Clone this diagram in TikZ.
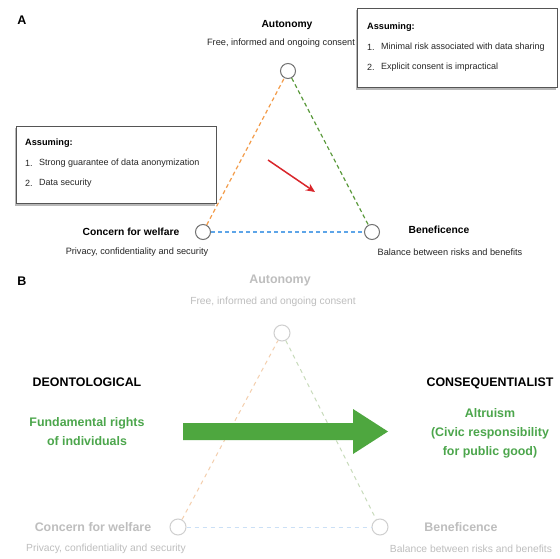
\documentclass[tikz,border=0pt]{standalone}
\usepackage{fontspec}
\setmainfont{Liberation Sans}
\usetikzlibrary{arrows.meta}
\pgfdeclarelayer{background}
\pgfsetlayers{background,main}
\definecolor{orangeD}{HTML}{F39C4A}
\definecolor{greenD}{HTML}{5B9A3C}
\definecolor{blueD}{HTML}{5DA5E8}
\definecolor{redA}{HTML}{D9262B}
\definecolor{bigG}{HTML}{4EA73F}
\definecolor{txtG}{HTML}{4CA64C}
\definecolor{fade}{HTML}{BEBEBE}
\definecolor{fadeC}{HTML}{CFCFCF}
\definecolor{fadeO}{HTML}{F4CFAE}
\definecolor{fadeG}{HTML}{C8DBBB}
\definecolor{fadeB}{HTML}{CBE0F6}
\definecolor{boxline}{HTML}{555555}
\definecolor{shade}{HTML}{B8B8B8}
\begin{document}
\begin{tikzpicture}[x=1pt,y=-1pt,
  txt/.style={inner sep=0pt},
  ttl/.style={txt,font=\bfseries\fontsize{10.3}{12}\selectfont},
  sub/.style={txt,text=black!85,font=\fontsize{9.2}{11}\selectfont},
  boxt/.style={txt,anchor=west,text=black!85,font=\fontsize{9}{11}\selectfont},
  boxh/.style={txt,anchor=west,font=\bfseries\fontsize{9.2}{11}\selectfont},
  circ/.style={circle,draw=gray!90!black,fill=white,line width=1pt,minimum size=15pt,inner sep=0pt},
  fcirc/.style={circle,draw=fadeC,fill=white,line width=1pt,minimum size=16pt,inner sep=0pt},
  abox/.style={draw=boxline,fill=white,line width=0.9pt},
  shadowbox/.style={fill=shade},
  dl/.style={line width=1.2pt,dash pattern=on 4pt off 3pt},
  fdl/.style={line width=1pt,dash pattern=on 4pt off 4pt},
  bigt/.style={txt,font=\bfseries\fontsize{12.4}{19}\selectfont,align=center},
  fttl/.style={txt,text=fade,font=\bfseries\fontsize{12.4}{14}\selectfont},
  fsub/.style={txt,text=fade,font=\fontsize{10.3}{12}\selectfont},
  panel/.style={txt,font=\bfseries\fontsize{12.5}{14}\selectfont}]
\useasboundingbox (0,0) rectangle (560,559);
\begin{pgfonlayer}{background}
  \fill[white] (0,0) rectangle (560,559);
\end{pgfonlayer}

% ---------- Panel A ----------
\node[panel] (labA) at (22,20) {A};
\node[ttl] (autT) at (287,25) {Autonomy};
\node[sub] (autS) at (281,43) {Free, informed and ongoing consent};
\node[circ] (aut) at (288,71) {};
\node[circ] (wel) at (203,232) {};
\node[circ] (ben) at (372,232) {};
\draw[dl,orangeD] (wel) -- (aut);
\draw[dl,greenD] (aut) -- (ben);
\draw[dl,blueD] (wel) -- (ben);
\node[ttl] (welT) at (131,232) {Concern for welfare};
\node[sub] (welS) at (137,252) {Privacy, confidentiality and security};
\node[ttl] (benT) at (439,230) {Beneficence};
\node[sub] (benS) at (450,252) {Balance between risks and benefits};

\coordinate (rs) at (268,160);
\coordinate (re) at (315,192);
\draw[redA,line width=1.5pt,-{Stealth[length=9pt,width=8pt]}] (rs) -- (re);

\node[abox,anchor=north west,minimum width=200pt,minimum height=79pt] (boxR) at (357,8) {};
\node[boxh] (bRh) at (367,27) {Assuming:};
\node[boxt] (bR1n) at (367,47) {1.};
\node[boxt] (bR1) at (381,47) {Minimal risk associated with data sharing};
\node[boxt] (bR2n) at (367,67) {2.};
\node[boxt] (bR2) at (381,67) {Explicit consent is impractical};

\node[abox,anchor=north west,minimum width=200pt,minimum height=77pt] (boxL) at (16,126) {};
\node[boxh] (bLh) at (25,143) {Assuming:};
\node[boxt] (bL1n) at (25,163) {1.};
\node[boxt] (bL1) at (39,163) {Strong guarantee of data anonymization};
\node[boxt] (bL2n) at (25,183) {2.};
\node[boxt] (bL2) at (39,183) {Data security};

\begin{pgfonlayer}{background}
  \fill[shadowbox] ([shift={(-1.5,2)}]boxR.north west) rectangle ([shift={(-1.5,2)}]boxR.south east);
  \fill[shadowbox] ([shift={(-1.5,2)}]boxL.north west) rectangle ([shift={(-1.5,2)}]boxL.south east);
\end{pgfonlayer}

% ---------- Panel B ----------
\node[panel] (labB) at (22,281) {B};
\node[fttl] (fautT) at (280,281) {Autonomy};
\node[fsub] (fautS) at (273,302) {Free, informed and ongoing consent};
\node[fcirc] (faut) at (282,333) {};
\node[fcirc] (fwel) at (178,527) {};
\node[fcirc] (fben) at (380,527) {};
\draw[fdl,fadeO] (fwel) -- (faut);
\draw[fdl,fadeG] (faut) -- (fben);
\draw[fdl,fadeB] (fwel) -- (fben);
\node[fttl] (fwelT) at (93,527) {Concern for welfare};
\node[fsub] (fwelS) at (106,549) {Privacy, confidentiality and security};
\node[fttl] (fbenT) at (461,527) {Beneficence};
\node[fsub] (fbenS) at (471,549) {Balance between risks and benefits};

\node[bigt] (deon) at (87,382) {DEONTOLOGICAL};
\node[bigt,text=txtG] (fund) at (87,432) {Fundamental rights\\of individuals};
\node[bigt] (cons) at (490,383) {CONSEQUENTIALIST};
\node[bigt,text=txtG] (altr) at (490,433) {Altruism\\(Civic responsibility\\for public good)};

\fill[bigG] (183,423) -- (353,423) -- (353,409) -- (388,431.5) -- (353,454) -- (353,440) -- (183,440) -- cycle;
\end{tikzpicture}
\end{document}
